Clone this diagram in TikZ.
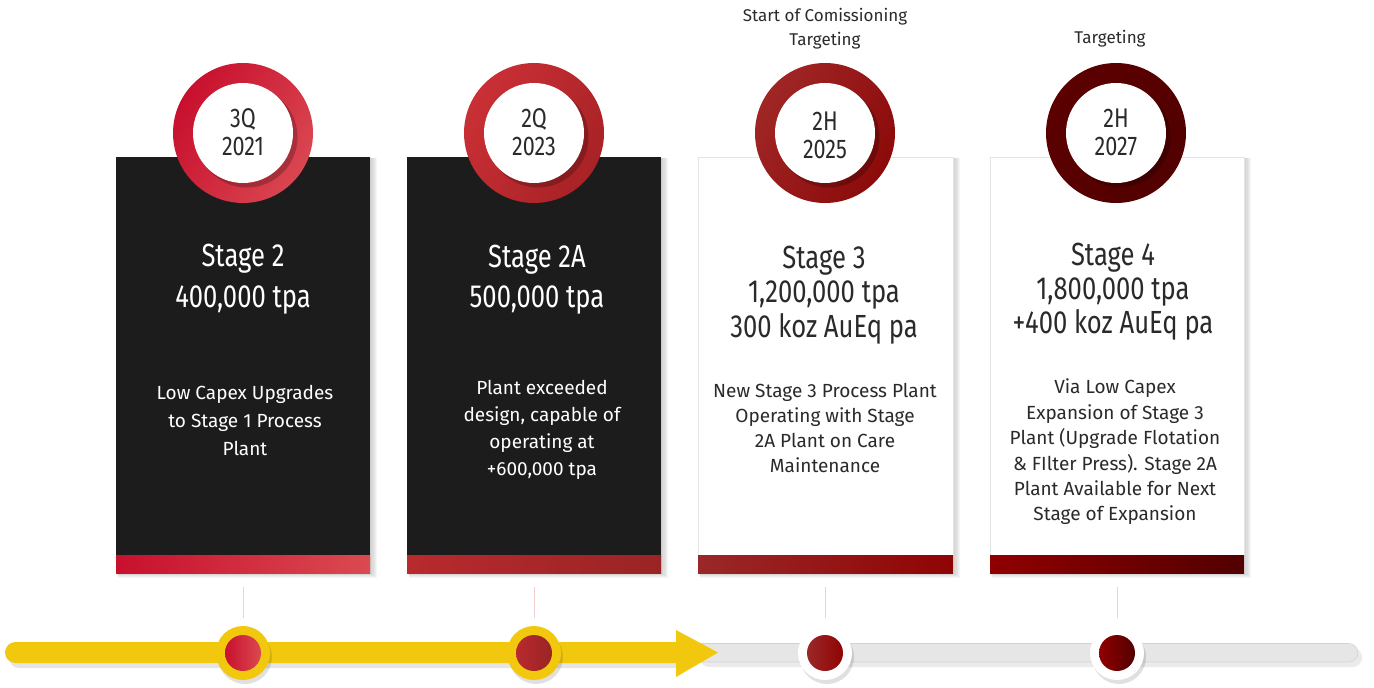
\documentclass[tikz,border=0pt]{standalone}
\usepackage{fontspec}
\setmainfont{Fira Sans}
\newfontfamily\cond[FakeStretch=0.8]{Fira Sans}
\definecolor{cardk}{HTML}{1C1C1C}
\definecolor{ylw}{HTML}{F2C80F}
\definecolor{greybar}{HTML}{E6E6E6}
\definecolor{greyedge}{HTML}{D2D2D2}
\definecolor{tick}{HTML}{F2CFCF}
\definecolor{ink}{HTML}{2A2A2A}
\definecolor{ra1}{HTML}{C8102E}\definecolor{rb1}{HTML}{DA4A50}
\definecolor{ra2}{HTML}{B82A2E}\definecolor{rb2}{HTML}{9A2424}
\definecolor{ra3}{HTML}{9A2828}\definecolor{rb3}{HTML}{900404}
\definecolor{ra4}{HTML}{900000}\definecolor{rb4}{HTML}{520000}
\definecolor{ca1}{HTML}{C8102E}\definecolor{cb1}{HTML}{D94650}
\definecolor{ca2}{HTML}{C93035}\definecolor{cb2}{HTML}{A82226}
\definecolor{ca3}{HTML}{A02626}\definecolor{cb3}{HTML}{8C0A0A}
\definecolor{ca4}{HTML}{5C0000}\definecolor{cb4}{HTML}{520000}
\tikzset{
  title/.style={inner sep=0pt, align=center},
  body/.style={inner sep=0pt, align=center},
  datetxt/.style={inner sep=0pt, align=center, text=ink, font=\cond\fontsize{27}{28}\selectfont},
  toptxt/.style={inner sep=0pt, align=center, text=ink, font=\fontsize{17}{24}\selectfont},
  tickline/.style={draw=tick, line width=0.8pt},
  softshade/.style={fill=black, opacity=0.035},
}
\newcommand{\cardshade}[4]{%
  \foreach \k in {1,...,6}{\fill[softshade] (#1+\k*0.4,#2+1) rectangle (#3+\k*1.2,#4+\k*0.8);}}
\begin{document}
\begin{tikzpicture}[x=1pt,y=-1pt]
\useasboundingbox (0,0) rectangle (1374,688);

% ---------- cards ----------
\cardshade{116}{157}{370}{573}
\cardshade{407}{157}{661}{573}
\cardshade{698}{157}{953}{573}
\cardshade{990}{157}{1244}{573}
\fill[cardk] (116,157) rectangle (370,573);
\fill[cardk] (407,157) rectangle (661,573);
\fill[white] (698,157) rectangle (953,573);
\fill[white] (990,157) rectangle (1244,573);
\draw[greyedge!60, line width=0.5pt] (698,157) rectangle (953,573);
\draw[greyedge!60, line width=0.5pt] (990,157) rectangle (1244,573);
\shade[left color=ra1, right color=rb1] (116,555) rectangle (370,573);
\shade[left color=ra2, right color=rb2] (407,555) rectangle (661,573);
\shade[left color=ra3, right color=rb3] (698,555) rectangle (953,573);
\shade[left color=ra4, right color=rb4] (990,555) rectangle (1244,573);

% ---------- date circles ----------
\foreach \cx/\ca/\cb in {243/ca1/cb1, 534/ca2/cb2, 825/ca3/cb3, 1116/ca4/cb4}{
  \shade[left color=\ca, right color=\cb, shading angle=60] (\cx,133) circle (70);
  \fill[black, opacity=0.22] (\cx+4,137) circle (50.5);
  \fill[white] (\cx,133) circle (50);
}
\node[datetxt] (d1) at (243,132) {3Q\\2021};
\node[datetxt] (d2) at (534,132) {2Q\\2023};
\node[datetxt] (d3) at (825,135) {2H\\2025};
\node[datetxt] (d4) at (1116,132) {2H\\2027};

\node[toptxt] (top3) at (825,29) {Start of Comissioning\\Targeting};
\node[toptxt] (top4) at (1110,39) {Targeting};

% ---------- titles ----------
\node[title, text=white, font=\cond\fontsize{32}{41}\selectfont] (s1) at (243,279) {Stage 2\\400,000 tpa};
\node[title, text=white, font=\cond\fontsize{32}{40}\selectfont] (s2) at (537,280) {Stage 2A\\500,000 tpa};
\node[title, text=ink, font=\cond\fontsize{32}{34.5}\selectfont] (s3) at (824,295) {Stage 3\\1,200,000 tpa\\300 koz AuEq pa};
\node[title, text=ink, font=\cond\fontsize{32}{34}\selectfont] (s4) at (1113,292) {Stage 4\\1,800,000 tpa\\+400 koz AuEq pa};

% ---------- descriptions ----------
\node[body, text=white, font=\fontsize{19}{28}\selectfont] (b1) at (245,420) {Low Capex Upgrades\\to Stage 1 Process\\Plant};
\node[body, text=white, font=\fontsize{19}{27}\selectfont] (b2) at (542,430) {Plant exceeded\\design, capable of\\operating at\\+600,000 tpa};
\node[body, text=ink, font=\fontsize{19}{25.3}\selectfont] (b3) at (825,428) {New Stage 3 Process Plant\\Operating with Stage\\2A Plant on Care\\Maintenance};
\node[body, text=ink, font=\fontsize{19}{25.4}\selectfont] (b4) at (1115,452) {Via Low Capex\\Expansion of Stage 3\\Plant (Upgrade Flotation\\\& FIlter Press). Stage 2A\\Plant Available for Next\\Stage of Expansion};

% ---------- timeline ----------
\fill[black, opacity=0.08, rounded corners=9pt] (700,648) rectangle (1362,667);
\fill[greybar, draw=greyedge, line width=0.6pt, rounded corners=9.5pt] (690,643.5) rectangle (1358,662);
\fill[black, opacity=0.10, rounded corners=10pt] (9,647) rectangle (690,668);
\fill[ylw, rounded corners=10.5pt] (5,642) rectangle (690,663);
\fill[ylw] (676,630) -- (718,652.5) -- (676,677) -- cycle;

% dots
\coordinate (t1) at (243,587); \coordinate (t2) at (534,587);
\coordinate (t3) at (825,587); \coordinate (t4) at (1117,587);
\foreach \i/\cx in {1/243, 2/534}{
  \fill[black, opacity=0.12] (\cx+2,657) circle (27);
  \node[circle, fill=ylw, minimum size=54pt, inner sep=0pt] (o\i) at (\cx,653) {};
}
\foreach \i/\cx in {3/825, 4/1117}{
  \fill[black, opacity=0.12] (\cx+2,657) circle (27);
  \node[circle, fill=white, minimum size=54pt, inner sep=0pt] (o\i) at (\cx,653) {};
}
\shade[left color=ca1, right color=rb1] (o1) circle (18);
\shade[left color=ra2, right color=rb2] (o2) circle (18);
\shade[left color=ra3, right color=rb3] (o3) circle (18);
\shade[left color=ra4, right color=rb4] (o4) circle (18);

\foreach \i in {1,2,3,4}{
  \draw[tickline] (t\i) -- ([yshift=8pt]o\i.north);
}
\end{tikzpicture}
\end{document}
